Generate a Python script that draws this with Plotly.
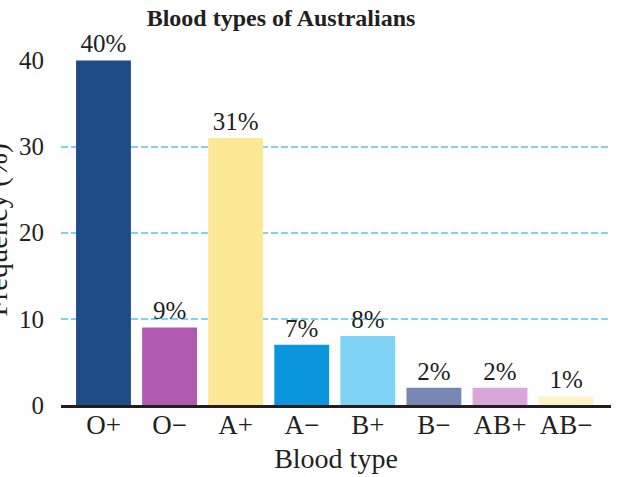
import plotly.graph_objects as go

categories = ["O+", "O−", "A+", "A−", "B+", "B−", "AB+", "AB−"]
values = [40, 9, 31, 7, 8, 2, 2, 1]
labels = ["40%", "9%", "31%", "7%", "8%", "2%", "2%", "1%"]
colors = ["#1d4c86", "#b05ab2", "#fde895", "#0b95dc", "#7fd4f6", "#7886b4", "#d6a7d8", "#fff2c8"]
y_ticks = [0, 10, 20, 30, 40]

FONT = "Liberation Serif, Times New Roman, serif"
INK = "#231f20"

fig = go.Figure(go.Bar(
    x=categories, y=values, text=labels, textposition="outside",
    marker=dict(color=colors, line=dict(width=0)),
    textfont=dict(family=FONT, size=25, color=INK),
    cliponaxis=False,
))

W, H = 624, 477
L, R, T, B = 61, 13, 60, 72
pw = W - L - R

fig.update_layout(
    width=W, height=H,
    margin=dict(l=L, r=R, t=T, b=B),
    paper_bgcolor="white", plot_bgcolor="white",
    bargap=0.17,
    showlegend=False,
    font=dict(family=FONT, color=INK),
    title=dict(text="<b>Blood types of Australians</b>", x=281 / W, xanchor="center",
               xref="container", y=1 - 18 / H, yanchor="middle", yref="container",
               font=dict(family=FONT, size=24, color=INK)),
    xaxis=dict(
        range=[-0.643, 7.68], automargin=False,
        showline=True, linecolor=INK, linewidth=2.5,
        ticks="", tickfont=dict(family=FONT, size=27, color=INK),
        ticklabelstandoff=-6,
        showgrid=False,
        title=dict(text="Blood type", font=dict(family=FONT, size=28, color=INK), standoff=10),
    ),
    yaxis=dict(
        range=[0, 40.05], tickvals=y_ticks, ticks="", automargin=False,
        tickfont=dict(family=FONT, size=25, color=INK),
        showgrid=True, gridcolor="#7dd3f0", gridwidth=1.5, griddash="7px,3px",
        zeroline=False, showline=False, ticklabelstandoff=16,
    ),
    annotations=[dict(
        text="Frequency (%)", textangle=-90, showarrow=False,
        xref="paper", yref="paper",
        x=(15 - L) / pw, xanchor="right",
        y=(405 - 230) / (405 - 60), yanchor="middle",
        font=dict(family=FONT, size=29, color=INK),
    )],
)

fig.write_html("out.html")
